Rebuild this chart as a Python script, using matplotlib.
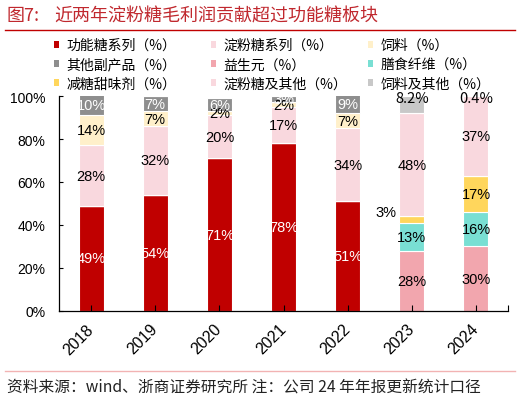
import matplotlib
matplotlib.use("Agg")
import matplotlib.pyplot as plt
from matplotlib.patches import Patch
from matplotlib.lines import Line2D
import numpy as np

plt.rcParams['font.family'] = ['Liberation Sans', 'Noto Sans CJK SC', 'DejaVu Sans']

years = ['2018', '2019', '2020', '2021', '2022', '2023', '2024']

# segment values (%), 0 = not reported that year
func_sugar   = [49, 54, 71, 78, 51, 0, 0]     # 功能糖系列
prebiotic    = [0, 0, 0, 0, 0, 28, 30]        # 益生元
fiber        = [0, 0, 0, 0, 0, 13, 16]        # 膳食纤维
sweetener    = [0, 0, 0, 0, 0, 3, 17]         # 减糖甜味剂
starch_sugar = [28, 32, 20, 17, 34, 0, 0]     # 淀粉糖系列
starch_other = [0, 0, 0, 0, 0, 48, 37]        # 淀粉糖及其他
feed         = [14, 7, 2, 2, 7, 0, 0]         # 饲料
by_product   = [10, 7, 6, 3, 9, 0, 0]         # 其他副产品
feed_other   = [0, 0, 0, 0, 0, 8.2, 0.4]      # 饲料及其他

RED = '#C00000'
series = [
    ('功能糖系列（%）', func_sugar, RED, 'white'),
    ('益生元（%）', prebiotic, '#F2A6AE', 'black'),
    ('膳食纤维（%）', fiber, '#79DFD3', 'black'),
    ('减糖甜味剂（%）', sweetener, '#FFD65C', 'black'),
    ('淀粉糖系列（%）', starch_sugar, '#F9D8DE', 'black'),
    ('淀粉糖及其他（%）', starch_other, '#F9D8DE', 'black'),
    ('饲料（%）', feed, '#FFF0CA', 'black'),
    ('其他副产品（%）', by_product, '#8E8E8E', 'white'),
    ('饲料及其他（%）', feed_other, '#C8C8C8', 'black'),
]

label_font = ['Liberation Sans Narrow', 'Liberation Sans', 'Noto Sans CJK SC']
cjk = ['Noto Sans CJK SC', 'DejaVu Sans']

fig = plt.figure(figsize=(5.2, 4.02), dpi=100)
ax = fig.add_axes([0.1135, 0.2239, 0.8635, 0.5348])

x = np.arange(len(years))
width = 0.39
bottom = np.zeros(len(years))
handles = {}
for name, vals, color, tcolor in series:
    vals = np.array(vals, dtype=float)
    ax.bar(x, vals, width, bottom=bottom, color=color, edgecolor='white', linewidth=0.8)
    handles[name] = Patch(facecolor=color, edgecolor='none')
    for i, v in enumerate(vals):
        if v <= 0:
            continue
        if v < 1 or v != int(v):
            ax.text(x[i], 99, f'{v:.1f}%', ha='center', va='center', fontsize=10.5,
                    family=cjk, color=tcolor, clip_on=False)
        elif name.startswith('减糖') and v < 5:
            ax.text(x[i] - width / 2 - 0.05, bottom[i] + v / 2 + 3.5, f'{v:.0f}%',
                    ha='right', va='center', fontsize=10.5, family=label_font, color='black')
        else:
            ax.text(x[i], bottom[i] + v / 2, f'{v:.0f}%', ha='center', va='center',
                    fontsize=10.5, family=label_font, color=tcolor, clip_on=False)
    bottom += vals

ax.set_xlim(-0.5, 6.5)
ax.set_ylim(0, 100)
ax.set_yticks([0, 20, 40, 60, 80, 100])
ax.set_yticklabels([f'{t}%' for t in [0, 20, 40, 60, 80, 100]], fontsize=10)
ax.set_xticks(x)
ax.set_xticklabels(years, fontsize=11.5, rotation=45, ha='right', va='center',
                   rotation_mode='anchor')
ax.set_xticks([6.5], minor=True)
ax.tick_params(axis='y', direction='in', length=3, width=0.8, pad=10)
ax.tick_params(axis='x', which='both', direction='in', length=4, width=0.8, pad=11)
for s in ['top', 'right']:
    ax.spines[s].set_visible(False)
for s in ['left', 'bottom']:
    ax.spines[s].set_linewidth(0.9)

# legend: three columns, row-wise order as in the source
cols = [
    ['功能糖系列（%）', '其他副产品（%）', '减糖甜味剂（%）'],
    ['淀粉糖系列（%）', '益生元（%）', '淀粉糖及其他（%）'],
    ['饲料（%）', '膳食纤维（%）', '饲料及其他（%）'],
]
for xpos, names in zip([0.103, 0.405, 0.707], cols):
    leg = fig.legend([handles[n] for n in names], names, loc='upper left',
                     bbox_to_anchor=(xpos, 0.903), frameon=False,
                     prop={'family': cjk, 'size': 10}, handlelength=0.4,
                     handleheight=0.4, handletextpad=0.55, labelspacing=0.38,
                     borderpad=0, borderaxespad=0)

# title and footer
fig.text(0.013, 0.96, '图7:', fontsize=13, color='#C0282E', family=cjk, va='center')
fig.text(0.105, 0.96, '近两年淀粉糖毛利润贡献超过功能糖板块', fontsize=13,
         color='#C0282E', family=cjk, va='center')
fig.add_artist(Line2D([0.01, 0.99], [0.923, 0.923], color=RED, lw=1.0))
fig.add_artist(Line2D([0.01, 0.99], [0.075, 0.075], color='#F2B3B3', lw=1.0))
fig.text(0.013, 0.035, '资料来源：wind、浙商证券研究所 注：公司 24 年年报更新统计口径',
         fontsize=11.3, color='#222222', family=cjk, va='center')

fig.savefig('out.png', dpi=100)
